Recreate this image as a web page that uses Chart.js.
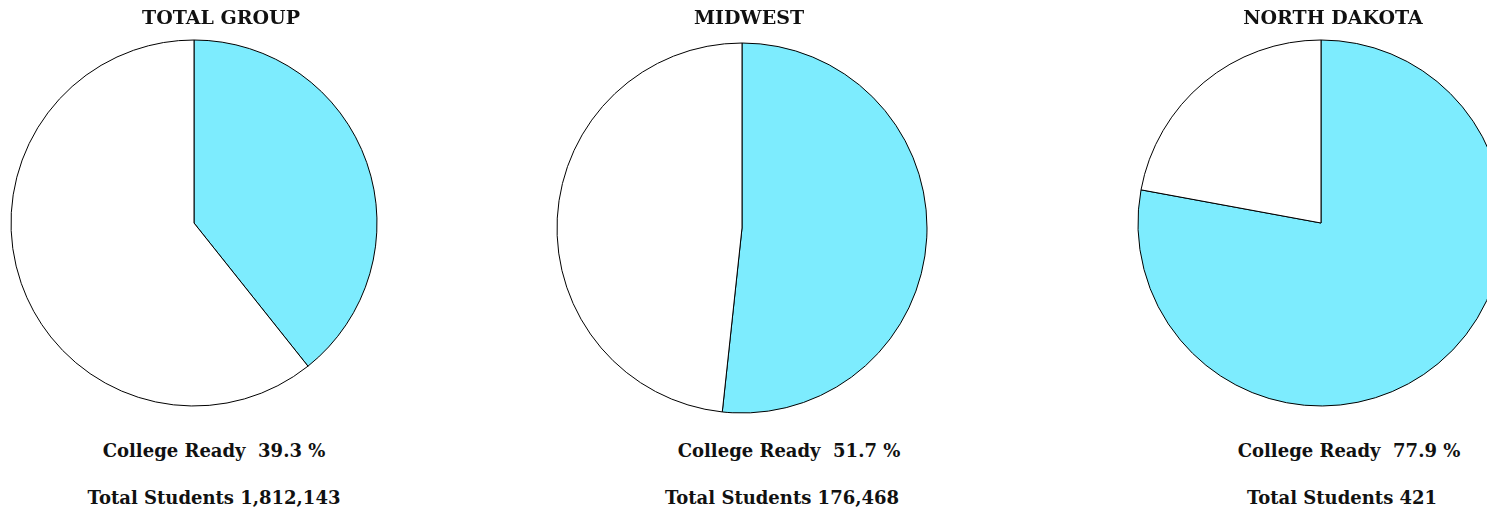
<!doctype html>
<html lang="en">
<head>
    <meta charset="utf-8">
    <script src="https://cdn.jsdelivr.net/npm/chart.js/dist/chart.umd.min.js"></script>
    <title>College Ready</title>
    <style>
        * { margin: 0; padding: 0; }
        body { width: 1487px; height: 508px; overflow: hidden; position: relative; background: #fff;
               font-family: "DejaVu Serif", serif; font-weight: bold; color: #111; }
        canvas { position: absolute; }
        .txt { position: absolute; white-space: nowrap; transform: translateX(-50%); font-size: 18px; }
        .title { font-size: 19px; }
    </style>
</head>
<body>
    <canvas id="pie0" width="400" height="400"></canvas>
    <canvas id="pie1" width="400" height="400"></canvas>
    <canvas id="pie2" width="400" height="400"></canvas>

<script>
// data
var groups = ['TOTAL GROUP', 'MIDWEST', 'NORTH DAKOTA'];
var collegeReady = [39.3, 51.7, 77.9];
var totalStudents = ['1,812,143', '176,468', '421'];
var sliceLabels = ['College Ready', 'Not College Ready'];

// layout of each pie: center and radius, plus text anchors
var pies = [
    { cx: 194, cy: 222.5, r: 183, titleX: 221, textX: 214, textX2: 214 },
    { cx: 742, cy: 228, r: 185, titleX: 749, textX: 789, textX2: 782 },
    { cx: 1321, cy: 223, r: 183, titleX: 1333, textX: 1349, textX2: 1342 }
];

function addText(str, x, y, cls) {
    var d = document.createElement('div');
    d.className = 'txt ' + (cls || '');
    d.textContent = str;
    d.style.left = x + 'px';
    d.style.top = y + 'px';
    document.body.appendChild(d);
}

pies.forEach(function (p, i) {
    var cv = document.getElementById('pie' + i);
    cv.style.left = (p.cx - 200) + 'px';
    cv.style.top = (p.cy - 200) + 'px';
    new Chart(cv, {
        type: 'pie',
        data: {
            labels: sliceLabels,
            datasets: [{
                data: [collegeReady[i], +(100 - collegeReady[i]).toFixed(1)],
                backgroundColor: ['#7DECFE', '#ffffff'],
                borderColor: '#000',
                borderWidth: 1,
                borderAlign: 'center'
            }]
        },
        options: {
            responsive: false,
            animation: false,
            radius: p.r,
            plugins: { legend: { display: false }, tooltip: { enabled: false } }
        }
    });

    addText(groups[i], p.titleX, 6, 'title');
    addText('College Ready\u00a0\u00a0' + collegeReady[i].toFixed(1) + ' %', p.textX, 440);
    addText('Total Students ' + totalStudents[i], p.textX2, 487);
});
</script>
</body>
</html>
